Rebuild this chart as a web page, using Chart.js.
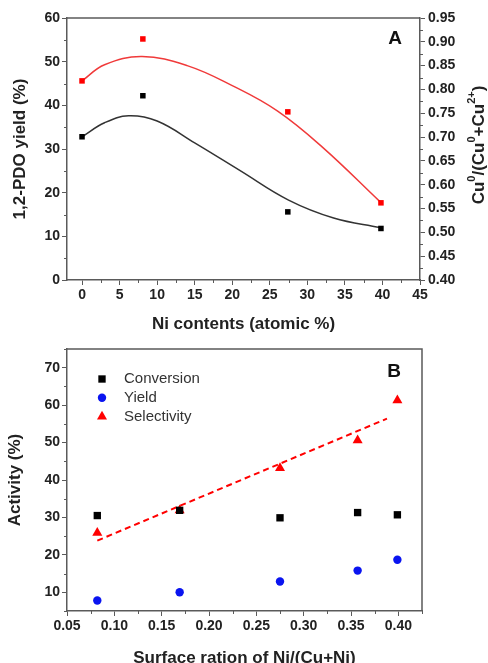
<!DOCTYPE html>
<html>
<head>
<meta charset="utf-8">
<script src="https://cdn.jsdelivr.net/npm/chart.js@4.4.1/dist/chart.umd.min.js"></script>
<style>
  html, body { margin: 0; padding: 0; background: #fff; }
  #wrap { position: relative; width: 488px; height: 663px; }
  canvas { position: absolute; left: 0; }
  #chartA { top: 0; }
  #chartB { top: 335px; }
</style>
</head>
<body>
<div id="wrap">
  <canvas id="chartA" width="488" height="335"></canvas>
  <canvas id="chartB" width="488" height="328"></canvas>
</div>
<script>
// ---- panel A data ----
const niContent = [0, 8.1, 27.4, 39.8];
const pdoYield = [32.8, 42.2, 15.6, 11.8];
const cuRatio = [0.818, 0.906, 0.753, 0.562];
// fitted curves
const yieldFitX = [0, 3, 6.2, 10, 15, 21, 27.5, 33.5, 39.7];
const yieldFitY = [32.8, 36.0, 37.6, 36.4, 31.4, 25.1, 18.3, 14.2, 12.0];
const ratioFitX = [0, 3, 8, 14, 20, 26, 32, 39.7];
const ratioFitY = [0.818, 0.852, 0.869, 0.850, 0.808, 0.755, 0.679, 0.564];
const niTicks = [0, 5, 10, 15, 20, 25, 30, 35, 40, 45];
const yieldTicks = [0, 10, 20, 30, 40, 50, 60];
const ratioTicks = [0.40, 0.45, 0.50, 0.55, 0.60, 0.65, 0.70, 0.75, 0.80, 0.85, 0.90, 0.95];

// ---- panel B data ----
const surfaceRatio = [0.082, 0.169, 0.275, 0.357, 0.399];
const conversion = [30.5, 31.9, 29.9, 31.3, 30.7];
const yieldB = [7.8, 10.0, 12.9, 15.8, 18.7];
const selectivity = [25.9, 31.9, 43.2, 50.6, 61.3];
const trendX = [0.082, 0.388];
const trendY = [23.8, 56.4];
const surfTicks = [0.05, 0.10, 0.15, 0.20, 0.25, 0.30, 0.35, 0.40];
const activityTicks = [10, 20, 30, 40, 50, 60, 70];

const FONT = "'Liberation Sans', Arial, sans-serif";
const AXIS = '#5a5a5a';
const TEXT = '#222';
const RED = '#ff0000';

const tickFont = { family: FONT, size: 14, weight: 'bold' };
const pts = (xs, ys) => xs.map((x, i) => ({ x, y: ys[i] }));
const useTicks = (values) => (scale) => { scale.ticks = values.map(v => ({ value: v })); };

function axis(extra) {
  return Object.assign({
    type: 'linear',
    grid: { drawOnChartArea: false, tickLength: 5, color: AXIS, lineWidth: 1 },
    border: { display: true, color: AXIS, width: 1.5 },
    ticks: { font: tickFont, color: TEXT, padding: 2 },
  }, extra);
}

// short ticks halfway between the labelled ones
const minorTicks = {
  id: 'minorTicks',
  afterDraw(chart) {
    const ctx = chart.ctx;
    ctx.save();
    ctx.strokeStyle = AXIS;
    ctx.lineWidth = 1;
    Object.values(chart.scales).forEach(scale => {
      const vals = scale.ticks.map(t => t.value);
      if (vals.length < 2) return;
      const half = (vals[1] - vals[0]) / 2;
      const mids = [vals[0] - half].concat(vals.map(v => v + half));
      mids.forEach(v => {
        if (v < scale.min - 1e-9 || v > scale.max + 1e-9) return;
        const p = Math.round(scale.getPixelForValue(v)) + 0.5;
        ctx.beginPath();
        if (scale.isHorizontal()) {
          ctx.moveTo(p, scale.top); ctx.lineTo(p, scale.top + 3);
        } else if (scale.position === 'left') {
          ctx.moveTo(scale.right, p); ctx.lineTo(scale.right - 3, p);
        } else {
          ctx.moveTo(scale.left, p); ctx.lineTo(scale.left + 3, p);
        }
        ctx.stroke();
      });
    });
    ctx.restore();
  }
};

// top (and right) edge of the plot box
const frame = {
  id: 'frame',
  afterDraw(chart, args, opts) {
    const { ctx, chartArea: a } = chart;
    ctx.save();
    ctx.strokeStyle = AXIS;
    ctx.lineWidth = 1.5;
    ctx.beginPath();
    ctx.moveTo(a.left, a.top);
    ctx.lineTo(a.right, a.top);
    if (opts.right) ctx.lineTo(a.right, a.bottom);
    ctx.stroke();
    ctx.restore();
  }
};

// panel letter and extra texts
const labels = {
  id: 'labels',
  afterDraw(chart, args, opts) {
    const ctx = chart.ctx;
    ctx.save();
    ctx.fillStyle = '#111';
    ctx.font = `bold 19px ${FONT}`;
    ctx.textAlign = 'center';
    ctx.textBaseline = 'alphabetic';
    ctx.fillText(opts.letter, opts.letterX, opts.letterY);

    if (opts.rightTitle) {
      // Cu0/(Cu0+Cu2+) with superscripts, read bottom to top
      const parts = opts.rightTitle;
      const big = `bold 17px ${FONT}`;
      const small = `bold 11px ${FONT}`;
      let total = 0;
      parts.forEach(([t, sup]) => { ctx.font = sup ? small : big; total += ctx.measureText(t).width; });
      ctx.translate(opts.rightX, opts.rightY);
      ctx.rotate(-Math.PI / 2);
      ctx.textAlign = 'left';
      ctx.textBaseline = 'middle';
      ctx.fillStyle = TEXT;
      let x = -total / 2;
      parts.forEach(([t, sup]) => {
        ctx.font = sup ? small : big;
        ctx.fillText(t, x, sup ? -7 : 0);
        x += ctx.measureText(t).width;
      });
    }
    ctx.restore();
  }
};

// legend drawn inside the plot area
const innerLegend = {
  id: 'innerLegend',
  afterDraw(chart, args, opts) {
    if (!opts.show) return;
    const { ctx, chartArea: a } = chart;
    ctx.save();
    let row = 0;
    chart.data.datasets.forEach(ds => {
      if (ds.showLine !== false) return;
      const y = a.top + opts.top + row * opts.gap;
      const x = a.left + opts.left;
      ctx.fillStyle = ds.backgroundColor;
      ctx.strokeStyle = ds.backgroundColor;
      Chart.helpers.drawPoint(ctx, { pointStyle: ds.pointStyle, radius: ds.pointRadius, rotation: 0, borderWidth: 0 }, x, y);
      ctx.fillStyle = '#333';
      ctx.font = `15px ${FONT}`;
      ctx.textAlign = 'left';
      ctx.textBaseline = 'middle';
      ctx.fillText(ds.label, x + 22, y);
      row++;
    });
    ctx.restore();
  }
};

Chart.register(minorTicks, frame, labels, innerLegend);

const common = {
  responsive: false,
  animation: false,
  events: [],
};

new Chart(document.getElementById('chartA'), {
  type: 'line',
  data: {
    datasets: [
      { label: '1,2-PDO yield', data: pts(niContent, pdoYield), yAxisID: 'y', showLine: false,
        pointStyle: 'rect', pointRadius: 3.9, backgroundColor: '#000', borderColor: '#000', borderWidth: 0 },
      { label: 'Cu0/(Cu0+Cu2+)', data: pts(niContent, cuRatio), yAxisID: 'y1', showLine: false,
        pointStyle: 'rect', pointRadius: 3.9, backgroundColor: RED, borderColor: RED, borderWidth: 0 },
      { label: 'yield fit', data: pts(yieldFitX, yieldFitY), yAxisID: 'y', borderColor: '#333',
        borderWidth: 1.5, pointRadius: 0, tension: 0.4, fill: false },
      { label: 'ratio fit', data: pts(ratioFitX, ratioFitY), yAxisID: 'y1', borderColor: '#f03a3a',
        borderWidth: 1.5, pointRadius: 0, tension: 0.4, fill: false },
    ],
  },
  options: Object.assign({}, common, {
    layout: { padding: { top: 18, left: 0, right: 0, bottom: 0 } },
    scales: {
      x: axis({
        position: 'bottom', min: -2, max: 45,
        afterBuildTicks: useTicks(niTicks),
        afterFit: (s) => { s.height = 55; },
        title: { display: true, text: 'Ni contents (atomic %)', color: TEXT,
          font: { family: FONT, size: 17, weight: 'bold' }, padding: { top: 0, bottom: 0 } },
      }),
      y: axis({
        position: 'left', min: 0, max: 60,
        afterBuildTicks: useTicks(yieldTicks),
        afterFit: (s) => { s.width = 67; },
        title: { display: true, text: '1,2-PDO yield (%)', color: TEXT,
          font: { family: FONT, size: 17, weight: 'bold' }, padding: { top: 10, bottom: 0 } },
      }),
      y1: axis({
        position: 'right', min: 0.40, max: 0.95,
        afterBuildTicks: useTicks(ratioTicks),
        afterFit: (s) => { s.width = 68; },
        ticks: { font: tickFont, color: TEXT, padding: 3, callback: (v) => v.toFixed(2) },
      }),
    },
    plugins: {
      legend: { display: false },
      tooltip: { enabled: false },
      frame: { right: false },
      innerLegend: { show: false },
      labels: {
        letter: 'A', letterX: 395, letterY: 44,
        rightTitle: [['Cu', false], ['0', true], ['/(Cu', false], ['0', true], ['+Cu', false], ['2+', true], [')', false]],
        rightX: 479, rightY: 145,
      },
    },
  }),
});

new Chart(document.getElementById('chartB'), {
  type: 'line',
  data: {
    datasets: [
      { label: 'Conversion', data: pts(surfaceRatio, conversion), showLine: false,
        pointStyle: 'rect', pointRadius: 5.2, backgroundColor: '#000', borderColor: '#000', borderWidth: 0 },
      { label: 'Yield', data: pts(surfaceRatio, yieldB), showLine: false,
        pointStyle: 'circle', pointRadius: 4.2, backgroundColor: '#0a14f0', borderColor: '#0a14f0', borderWidth: 0 },
      { label: 'Selectivity', data: pts(surfaceRatio, selectivity), showLine: false,
        pointStyle: 'triangle', pointRadius: 5.8, backgroundColor: RED, borderColor: RED, borderWidth: 0 },
      { label: 'Selectivity trend', data: pts(trendX, trendY), borderColor: RED, borderWidth: 2,
        borderDash: [6, 4], pointRadius: 0, fill: false },
    ],
  },
  options: Object.assign({}, common, {
    layout: { padding: { top: 14, left: 0, right: 66, bottom: 0 } },
    scales: {
      x: axis({
        position: 'bottom', min: 0.05, max: 0.425,
        afterBuildTicks: useTicks(surfTicks),
        afterFit: (s) => { s.height = 52; },
        ticks: { font: tickFont, color: TEXT, padding: 2, callback: (v) => v.toFixed(2) },
        title: { display: true, text: 'Surface ration of Ni/(Cu+Ni)', color: TEXT,
          font: { family: FONT, size: 17, weight: 'bold', lineHeight: 0.6 }, padding: { top: 0, bottom: 0 } },
      }),
      y: axis({
        position: 'left', min: 5, max: 75,
        afterBuildTicks: useTicks(activityTicks),
        afterFit: (s) => { s.width = 67; },
        title: { display: true, text: 'Activity (%)', color: TEXT,
          font: { family: FONT, size: 17, weight: 'bold' }, padding: { top: 5, bottom: 0 } },
      }),
    },
    plugins: {
      legend: { display: false },
      tooltip: { enabled: false },
      frame: { right: true },
      innerLegend: { show: true, left: 35, top: 30, gap: 18.8 },
      labels: { letter: 'B', letterX: 394, letterY: 42 },
    },
  }),
});
</script>
</body>
</html>
